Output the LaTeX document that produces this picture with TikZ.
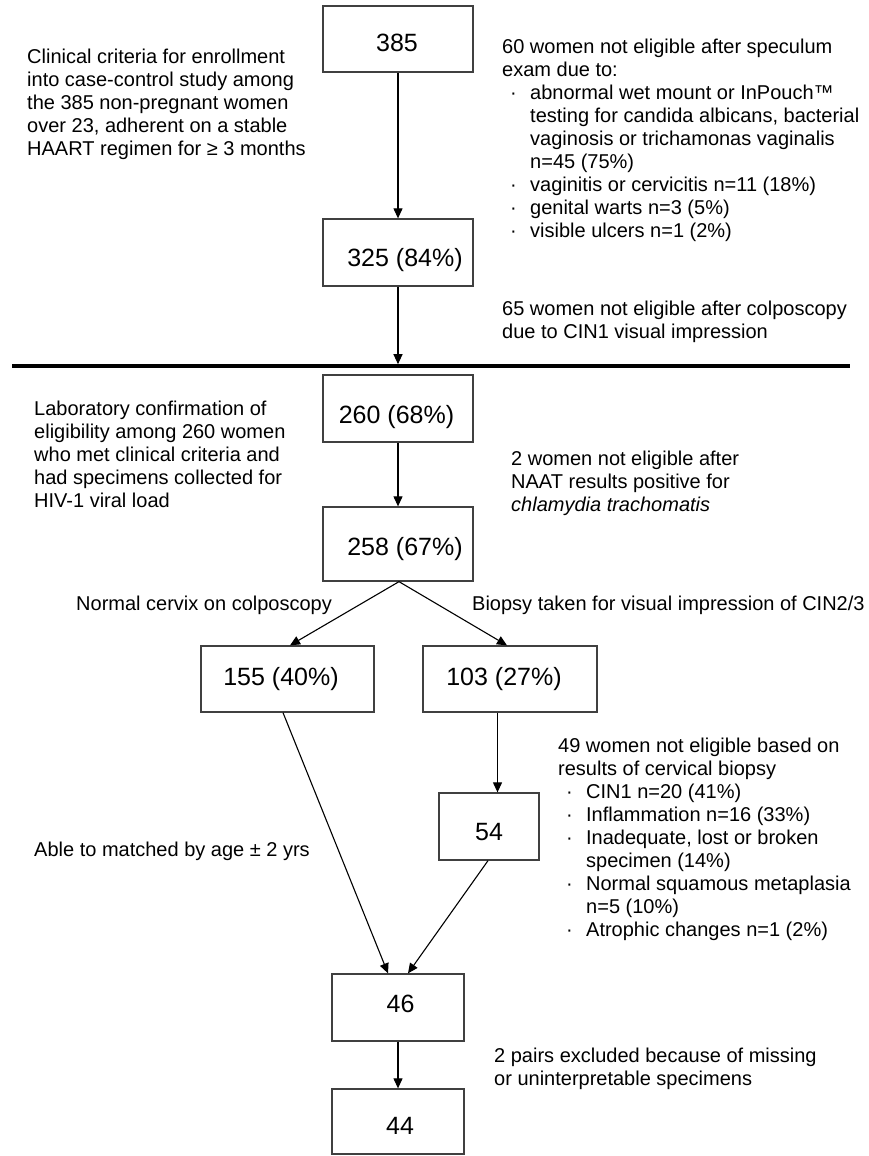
\documentclass[tikz,border=0pt]{standalone}
\usepackage{fontspec}
\setmainfont{Liberation Sans}
\usetikzlibrary{arrows.meta}
\newcommand\bul{\makebox[28pt][l]{\hspace{8pt}·}}
\newcommand\ind{\hspace*{28pt}}
\begin{document}
\begin{tikzpicture}[x=1pt,y=-1pt,
  box/.style={draw=black!75, line width=1.3pt, inner sep=0pt},
  num/.style={font=\fontsize{25}{28}\selectfont, anchor=base, inner sep=0pt},
  txt/.style={font=\fontsize{20}{23}\selectfont, align=left, anchor=base west, inner sep=0pt},
  arr/.style={line width=1.1pt, -{Triangle[length=10pt,width=9pt]}}]
\useasboundingbox (0,0) rectangle (868,1156);

% boxes
\node[box, minimum width=150pt, minimum height=66pt] (b385) at (398,39) {};
\node[box, minimum width=150pt, minimum height=67pt] (b325) at (398,252.5) {};
\node[box, minimum width=150pt, minimum height=67pt] (b260) at (398,408.5) {};
\node[box, minimum width=150pt, minimum height=74pt] (b258) at (398,544) {};
\node[box, minimum width=173pt, minimum height=66pt] (b155) at (287.5,679) {};
\node[box, minimum width=174pt, minimum height=66pt] (b103) at (510,679) {};
\node[box, minimum width=100pt, minimum height=67pt] (b54) at (489,826.5) {};
\node[box, minimum width=132pt, minimum height=67pt] (b46) at (398,1007.5) {};
\node[box, minimum width=132pt, minimum height=65pt] (b44) at (398,1121.5) {};

% numbers
\node[num] (n385) at (397,52) {385};
\node[num] (n325) at (405,266) {325 (84\%)};
\node[num] (n260) at (396.5,423) {260 (68\%)};
\node[num] (n258) at (405,555) {258 (67\%)};
\node[num] (n155) at (281,685) {155 (40\%)};
\node[num] (n103) at (504,685) {103 (27\%)};
\node[num] (n54) at (489,840) {54};
\node[num] (n46) at (400.5,1012) {46};
\node[num] (n44) at (400,1134) {44};

% dividing line
\coordinate (hl) at (12,366);
\coordinate (hr) at (850,366);
\coordinate (hit) at (398,364.2);
\draw[line width=3.5pt] (hl) -- (hr);

% connectors
\draw[arr] (b385.south) -- (b325.north);
\draw[arr] (b325.south) -- (hit);
\draw[arr] (b260.south) -- (b258.north);
\coordinate (apex) at ([xshift=1pt]b258.south);
\draw[arr] (apex) -- ([xshift=2.5pt]b155.north);
\draw[arr] (apex) -- ([xshift=-3pt]b103.north);
\draw[arr] ([xshift=-12.5pt]b103.south) -- ([xshift=8.5pt]b54.north);
\draw[arr] ([xshift=-4.5pt]b155.south) -- ([xshift=-10pt]b46.north);
\draw[arr] ([xshift=-1pt]b54.south) -- ([xshift=10pt]b46.north);
\draw[arr] (b46.south) -- (b44.north);

% texts (anchored at the baseline of the last line)
\node[txt] (t1) at (27,155) {Clinical criteria for enrollment\\into case-control study among\\the 385 non-pregnant women\\over 23, adherent on a stable\\HAART regimen for ≥ 3 months};
\node[txt] (t2) at (502,237) {60 women not eligible after speculum\\exam due to:\\
\bul abnormal wet mount or InPouch™\\
\ind testing for candida albicans, bacterial\\
\ind vaginosis or trichamonas vaginalis\\
\ind n=45 (75\%)\\
\bul vaginitis or cervicitis n=11 (18\%)\\
\bul genital warts n=3 (5\%)\\
\bul visible ulcers n=1 (2\%)};
\node[txt] (t3) at (502,338) {65 women not eligible after colposcopy\\due to CIN1 visual impression};
\node[txt] (t4) at (34,507) {Laboratory confirmation of\\eligibility among 260 women\\who met clinical criteria and\\had specimens collected for\\HIV-1 viral load};
\node[txt] (t5) at (511,511) {2 women not eligible after\\NAAT results positive for\\\textit{chlamydia trachomatis}};
\node[txt] (t6) at (76,610) {Normal cervix on colposcopy};
\node[txt] (t7) at (472,610) {Biopsy taken for visual impression of CIN2/3};
\node[txt] (t8) at (34,856) {Able to matched by age ± 2 yrs};
\node[txt] (t9) at (558,936) {49 women not eligible based on\\results of cervical biopsy\\
\bul CIN1 n=20 (41\%)\\
\bul Inflammation n=16 (33\%)\\
\bul Inadequate, lost or broken\\
\ind specimen (14\%)\\
\bul Normal squamous metaplasia\\
\ind n=5 (10\%)\\
\bul Atrophic changes n=1 (2\%)};
\node[txt] (t10) at (494,1085) {2 pairs excluded because of missing\\or uninterpretable specimens};
\end{tikzpicture}
\end{document}
